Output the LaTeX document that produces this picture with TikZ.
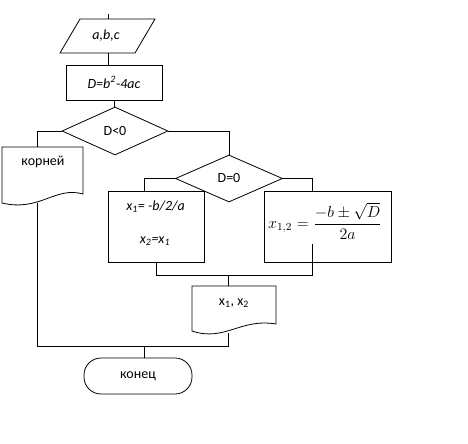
\documentclass[tikz,border=0pt]{standalone}
\usepackage{fontspec}
\setmainfont{Carlito}
\usetikzlibrary{shapes.geometric}
\begin{document}
\begin{tikzpicture}[x=0.75pt,y=-0.75pt, line width=0.6pt,
  font=\fontsize{10.5}{12}\selectfont,
  box/.style={draw, rectangle, inner sep=0pt},
  dia/.style={draw, diamond, inner sep=0pt},
  txt/.style={inner sep=1pt},
  term/.style={draw, rectangle, rounded corners={17*0.75pt}, inner sep=0pt,
    minimum width={108*0.75pt}, minimum height={36*0.75pt}}]
\useasboundingbox (0,0) rectangle (468,443);
% input
\draw (80,19) -- (155,19) -- (135,53) -- (60,53) -- cycle;
\node[txt] (abc) at (106,36) {\itshape a,b,c};
\coordinate (st) at (108,14);
\coordinate (abcT) at (108,19);
\coordinate (abcB) at (108,53);
\draw (st) -- (abcT);
% D
\node[box, minimum width={96*0.75pt}, minimum height={35*0.75pt}] (D) at (114,82.5)
  {\itshape D=b\textsuperscript{2}-4ac};
\draw (abcB) -- (abcB |- D.north);
% D<0
\node[dia, minimum width={106*0.75pt}, minimum height={48*0.75pt}] (d1) at (115,131) {D<0};
\draw (D.south) -- (D.south |- d1.north);
% korney document
\draw (2,147) -- (83,147) -- (83,194) .. controls (55,186) and (40,212) .. (2,203) -- cycle;
\node[txt] (kor) at (43,162) {корней};
\coordinate (kT) at (37,147);
\coordinate (kB) at (37,203);
\draw (d1.west) -| (kT);
% D=0
\node[dia, minimum width={107*0.75pt}, minimum height={47*0.75pt}] (d2) at (229,178.5) {D=0};
\draw (d1.east) -| (d2.north);
% left box
\node[box, minimum width={96*0.75pt}, minimum height={71*0.75pt}] (b1) at (156,226.5) {};
\node[txt] (t1) at (155.5,207) {\itshape x\textsubscript{1}= -b/2/a};
\node[txt] (t2) at (155,241) {\itshape x\textsubscript{2}=x\textsubscript{1}};
\coordinate (b1in) at (144,191);
\draw (d2.west) -| (b1in);
% right box
\node[box, minimum width={127*0.75pt}, minimum height={71*0.75pt}] (b2) at (327.5,226.5) {};
\node[txt, font=\fontsize{12}{14}\selectfont] (f) at (325,221)
  {$\displaystyle x_{1,2}=\frac{-b\pm\sqrt{D}}{2a}$};
\coordinate (b2in) at (312,191);
\draw (d2.east) -| (b2in);
\coordinate (b2out) at (312,244);
% merge
\coordinate (n) at (228,275);
\draw (b1.south) |- (n);
\draw (b2out) |- (n);
% output document
\draw (192,286) -- (276,286) -- (276,324) .. controls (240,318) and (225,342) .. (192,331) -- cycle;
\node[txt] (xx) at (234,303) {x\textsubscript{1}, x\textsubscript{2}};
\coordinate (xT) at (228,286);
\coordinate (xB) at (228,333);
\draw (n) -- (xT);
% end
\node[term] (end) at (138,376) {конец};
\coordinate (m) at (144,346);
\draw (kB) |- (m);
\draw (xB) |- (m);
\draw (m) -- (m |- end.north);
\end{tikzpicture}
\end{document}
